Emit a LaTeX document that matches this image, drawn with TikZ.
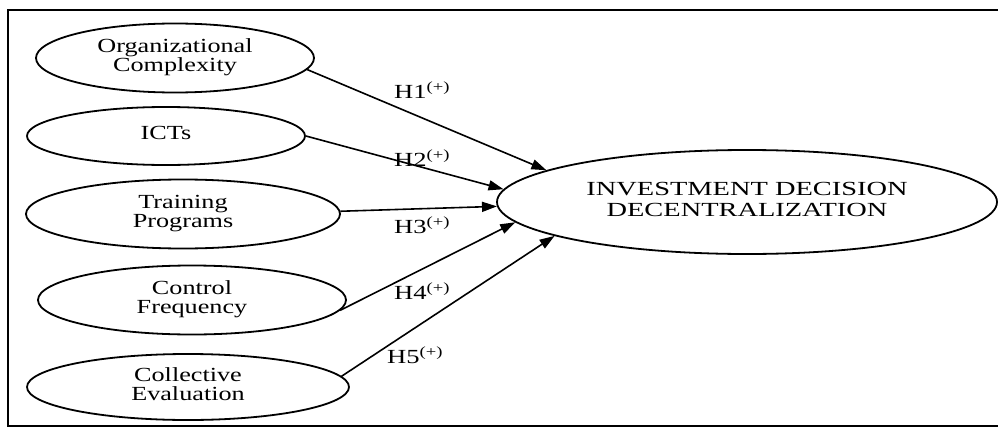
\documentclass[tikz,border=0pt]{standalone}
\usepackage{fontspec}
\setmainfont{Liberation Serif}
\usetikzlibrary{arrows.meta,shapes.geometric}
\newcommand\wtxt[2]{\scalebox{#1}[1]{\fontsize{20}{19.5}\selectfont\begin{tabular}{@{}c@{}}#2\end{tabular}}}
\newcommand\hlab[1]{\scalebox{1.33}[1]{\fontsize{20}{20}\selectfont H#1\raisebox{6.5pt}{\fontsize{14}{14}\selectfont(+)}}}
\tikzset{
  small/.style={draw, ellipse, line width=1.8pt, inner sep=0pt},
  link/.style={line width=1.6pt, -{Triangle[length=15pt,width=10pt]}},
  hyp/.style={inner sep=0pt, anchor=base west},
}
\begin{document}
\begin{tikzpicture}[x=1pt,y=-1pt]
\useasboundingbox (0,0) rectangle (998,428);
\fill[white] (0,0) rectangle (998,428);
\draw[line width=2pt] (998,10) -- (8,10) -- (8,426) -- (998,426);
\node[small, minimum width=278pt, minimum height=69pt] (oc) at (175,58) {\wtxt{1.31}{Organizational\\Complexity}};
\node[small, minimum width=278pt, minimum height=58pt] (ict) at (166,136) {\wtxt{1.31}{ICTs}};
\node[small, minimum width=314pt, minimum height=69pt] (tp) at (183,214) {\wtxt{1.31}{Training\\Programs}};
\node[small, minimum width=308pt, minimum height=69pt] (cf) at (192,300) {\wtxt{1.31}{Control\\Frequency}};
\node[small, minimum width=322pt, minimum height=66pt] (ce) at (188,387) {\wtxt{1.31}{Collective\\Evaluation}};
\node[small, minimum width=500pt, minimum height=104pt] (idd) at (747,202) {\scalebox{1.42}[1]{\fontsize{20}{21}\selectfont\begin{tabular}{@{}c@{}}INVESTMENT DECISION\\DECENTRALIZATION\end{tabular}}};
\draw[link] (oc.-5.7) -- (idd.171.1);
\draw[link] (ict.-0.4) -- (idd.177.8);
\draw[link] (tp.1.8) -- (idd.181.1);
\draw[link] (cf.-4.7) -- (idd.185);
\draw[link] (ce.4.8) -- (idd.190.5);
\node[hyp] (h1) at (394,98) {\hlab{1}};
\node[hyp] (h2) at (394,166) {\hlab{2}};
\node[hyp] (h3) at (394,233) {\hlab{3}};
\node[hyp] (h4) at (394,299) {\hlab{4}};
\node[hyp] (h5) at (387,363) {\hlab{5}};
\end{tikzpicture}
\end{document}
